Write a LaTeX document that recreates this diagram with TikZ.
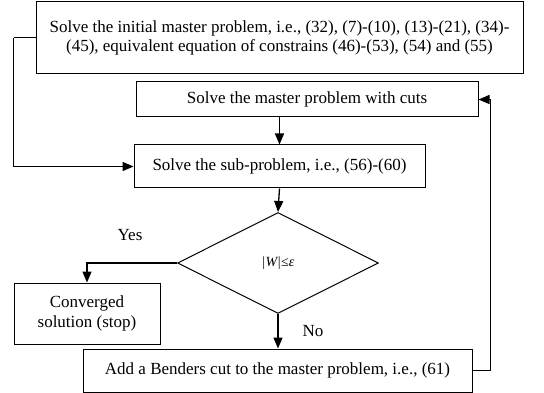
\documentclass[tikz,border=0pt]{standalone}
\usepackage{fontspec}
\setmainfont{Liberation Serif}
\usetikzlibrary{arrows.meta,shapes.geometric}
\begin{document}
\begin{tikzpicture}[x=1pt,y=-1pt,
  box/.style={draw, line width=1pt, inner sep=0pt, align=center, font=\fontsize{17}{19.5}\selectfont},
  arr/.style={-{Triangle[length=11pt,width=9pt]}, line width=1.3pt},
  ln/.style={line width=1pt},
  lbl/.style={font=\fontsize{17}{19.5}\selectfont, inner sep=0pt}]
\useasboundingbox (0,0) rectangle (544,393);
\node[box, minimum width=487pt, minimum height=72pt] (init) at (279.5,38)
  {Solve the initial master problem, i.e., (32), (7)-(10), (13)-(21), (34)-\\(45), equivalent equation of constrains (46)-(53), (54) and (55)};
\node[box, minimum width=342pt, minimum height=35pt] (master) at (307,99.5) {Solve the master problem with cuts};
\node[box, minimum width=291pt, minimum height=43pt] (sub) at (279.5,166.5) {Solve the sub-problem, i.e., (56)-(60)};
\node[draw, line width=1pt, shape=diamond, inner sep=0pt, minimum width=201pt, minimum height=101pt,
  font=\fontsize{14}{16}\selectfont] (dia) at (278,263) {\itshape |W|≤ε};
\node[box, minimum width=146pt, minimum height=61pt] (conv) at (87,313.5) {Converged\\solution (stop)};
\node[box, minimum width=389pt, minimum height=43pt] (add) at (277.5,370.5) {Add a Benders cut to the master problem, i.e., (61)};
\node[lbl] (yes) at (130,235) {Yes};
\node[lbl] (no) at (313,331) {No};
\draw[arr] (master.south -| sub.north) -- (sub.north);
\draw[ln] (init.west) -- ++(-22,0) coordinate (lc);
\draw[arr] (lc) |- (sub.west);
\draw[arr] (sub.south) -- (dia.north);
\draw[arr] (dia.west) -| (conv.north);
\draw[arr] (dia.south) -- (dia.south |- add.north);
\draw[ln] (add.east) -- ++(18,0) coordinate (rc);
\draw[arr] (rc) |- (master.east);
\end{tikzpicture}
\end{document}
